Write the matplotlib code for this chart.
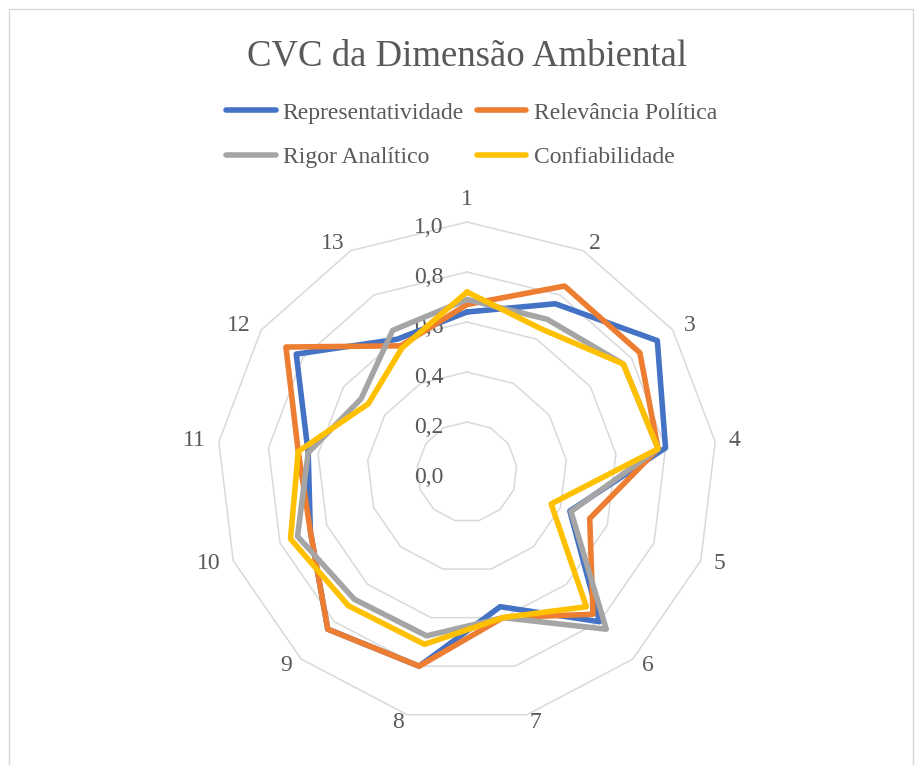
import numpy as np
import matplotlib
matplotlib.use('Agg')
from matplotlib import pyplot as plt
from matplotlib.patches import Rectangle

plt.rcParams['font.family'] = ['Liberation Serif', 'DejaVu Serif']

TEXT = '#595959'
GRID = '#D9D9D9'

categories = ['1', '2', '3', '4', '5', '6', '7', '8', '9', '10', '11', '12', '13']
levels = [0.0, 0.2, 0.4, 0.6, 0.8, 1.0]

representatividade = [0.64, 0.76, 0.925, 0.80, 0.44, 0.80, 0.555, 0.80, 0.84, 0.67, 0.64, 0.83, 0.60]
relevancia_politica = [0.67, 0.84, 0.84, 0.77, 0.525, 0.76, 0.60, 0.80, 0.84, 0.67, 0.68, 0.88, 0.57]
rigor_analitico = [0.69, 0.69, 0.76, 0.77, 0.445, 0.84, 0.60, 0.675, 0.68, 0.725, 0.64, 0.515, 0.64]
confiabilidade = [0.72, 0.645, 0.76, 0.77, 0.36, 0.72, 0.60, 0.71, 0.715, 0.755, 0.68, 0.48, 0.56]

series = [
    ('Representatividade', representatividade, '#4472C4'),
    ('Relevância Política', relevancia_politica, '#ED7D31'),
    ('Rigor Analítico', rigor_analitico, '#A5A5A5'),
    ('Confiabilidade', confiabilidade, '#FFC000'),
]

W, H = 916, 765
cx, cy, R = 467, 472, 250

fig = plt.figure(figsize=(W / 100, H / 100), dpi=100)
fig.patches.append(Rectangle((9 / W, -0.05), 904 / W, 1.05 - 9 / H, transform=fig.transFigure,
                             facecolor='none', edgecolor=GRID, linewidth=1.0))

ax = fig.add_axes([(cx - 1.3 * R) / W, (H - cy - 1.15 * R) / H, 2.6 * R / W, 2.3 * R / H])
ax.set_xlim(-1.3, 1.3)
ax.set_ylim(-1.15, 1.15)
ax.axis('off')

n = len(categories)
theta = np.arange(n) * 2 * np.pi / n
sx = np.sin(theta)
cy_ = np.cos(theta)
ring_x = np.append(sx, sx[0])
ring_y = np.append(cy_, cy_[0])

# polygon grid
for lvl in levels[1:]:
    ax.plot(ring_x * lvl, ring_y * lvl, color=GRID, lw=1.1, zorder=1)

for lvl in levels:
    ax.annotate(f'{lvl:.1f}'.replace('.', ','), xy=(0, lvl), xytext=(-17, -4),
                textcoords='offset points', ha='right', va='center',
                fontsize=17, color=TEXT, zorder=2)

lines = []
for name, vals, color in series:
    v = np.array(vals)
    ln, = ax.plot(np.append(v * sx, v[0] * sx[0]), np.append(v * cy_, v[0] * cy_[0]),
                  color=color, lw=4.0, label=name, solid_joinstyle='round',
                  solid_capstyle='round', zorder=3)
    lines.append(ln)

for i, lab in enumerate(categories):
    s, c = sx[i], cy_[i]
    if abs(s) < 0.05:
        ax.annotate(lab, xy=(s, c), xytext=(0, 12), textcoords='offset points',
                    ha='center', va='baseline', fontsize=17, color=TEXT)
    else:
        ax.annotate(lab, xy=(s, c), xytext=(9.5 * s, 5.8 * c), textcoords='offset points',
                    ha='left' if s > 0 else 'right', va='center', fontsize=17, color=TEXT)

fig.text(cx / W, 1 - 65 / H, 'CVC da Dimensão Ambiental', ha='center', va='baseline',
         fontsize=26.5, color=TEXT)

# legend filled row by row
order = [0, 2, 1, 3]
fig.legend([lines[i] for i in order], [series[i][0] for i in order],
           loc='upper left', bbox_to_anchor=(226 / W, 1 - 102 / H), ncol=2, frameon=False,
           fontsize=17, labelcolor=TEXT, handlelength=2.1, handletextpad=0.3,
           columnspacing=0.55, labelspacing=0.98, borderpad=0, borderaxespad=0)

fig.savefig('out.png', dpi=100)
